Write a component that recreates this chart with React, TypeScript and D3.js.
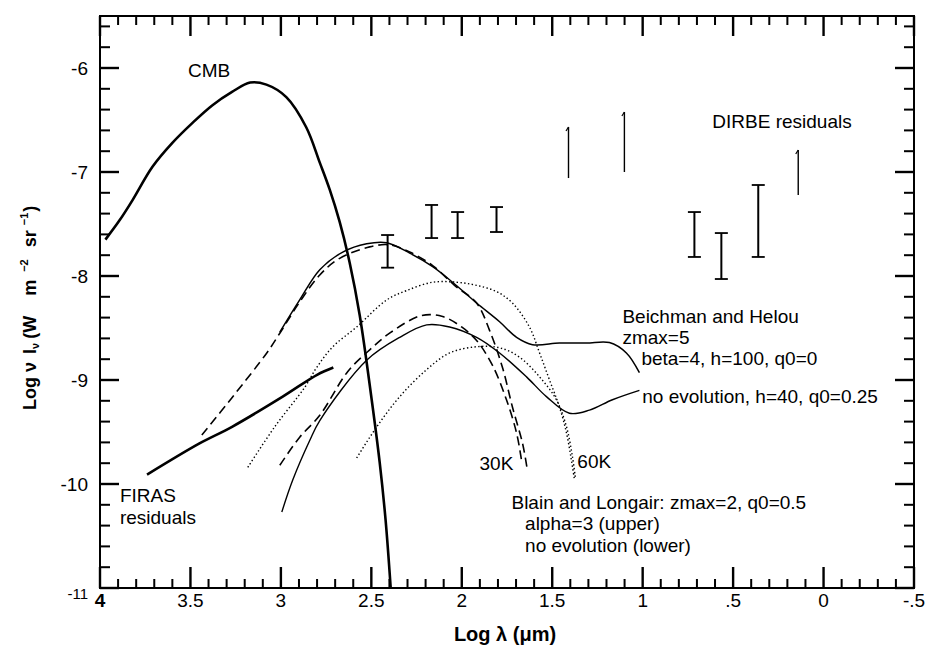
import { useEffect, useRef } from "react";
import * as d3 from "d3";

// axis ticks (log lambda runs right to left)
const xMajor = [4, 3.5, 3, 2.5, 2, 1.5, 1, 0.5, 0, -0.5];
const xLabels = ["4", "3.5", "3", "2.5", "2", "1.5", "1", ".5", "0", "-.5"];
const yMajor = [-11, -10, -9, -8, -7, -6];
const yLabels = ["-11", "-10", "-9", "-8", "-7", "-6"];

// curves as [log lambda, log nuInu]
const cmb: [number, number][] = [
  [3.97, -7.65], [3.89, -7.46], [3.82, -7.27], [3.71, -6.95], [3.6, -6.72],
  [3.49, -6.53], [3.38, -6.36], [3.27, -6.23], [3.17, -6.14], [3.08, -6.16],
  [2.97, -6.28], [2.86, -6.57], [2.785, -6.91], [2.73, -7.17], [2.675, -7.48],
  [2.62, -7.87], [2.564, -8.38], [2.498, -9.19], [2.454, -9.79], [2.421, -10.35],
  [2.393, -11.0],
];
const firas: [number, number][] = [
  [3.74, -9.91], [3.45, -9.61], [3.27, -9.45], [2.99, -9.16], [2.8, -8.95], [2.71, -8.88],
];
const bhUpper: [number, number][] = [
  [3.006, -8.54], [2.896, -8.23], [2.785, -7.94], [2.658, -7.77], [2.526, -7.69],
  [2.415, -7.68], [2.288, -7.78], [2.161, -7.91], [2.051, -8.06], [1.918, -8.26],
  [1.791, -8.44], [1.697, -8.59], [1.609, -8.66], [1.46, -8.645], [1.311, -8.645],
  [1.184, -8.64], [1.09, -8.74], [1.018, -8.93],
];
const bhLower: [number, number][] = [
  [2.995, -10.27], [2.934, -9.96], [2.84, -9.58], [2.785, -9.39], [2.526, -8.81],
  [2.343, -8.59], [2.194, -8.47], [2.067, -8.49], [1.918, -8.59], [1.791, -8.74],
  [1.642, -8.97], [1.532, -9.16], [1.405, -9.32], [1.294, -9.29], [1.167, -9.19],
  [1.018, -9.1],
];
const blUpper30: [number, number][] = [
  [3.437, -9.53], [3.266, -9.16], [3.078, -8.74], [3.006, -8.55], [2.896, -8.25],
  [2.785, -7.99], [2.675, -7.83], [2.509, -7.72], [2.399, -7.70], [2.288, -7.77],
  [2.161, -7.90], [2.04, -8.09], [1.918, -8.26], [1.847, -8.52], [1.775, -8.88],
  [1.72, -9.26], [1.664, -9.61], [1.637, -9.87],
];
const blLower30: [number, number][] = [
  [3.006, -9.82], [2.896, -9.55], [2.785, -9.34], [2.631, -8.92], [2.509, -8.71],
  [2.399, -8.55], [2.222, -8.38], [2.106, -8.39], [2.001, -8.49], [1.918, -8.62],
  [1.83, -8.86], [1.753, -9.19], [1.697, -9.51], [1.67, -9.77],
];
const blUpper60: [number, number][] = [
  [3.183, -9.84], [3.034, -9.45], [2.868, -9.07], [2.802, -8.88], [2.713, -8.68],
  [2.581, -8.49], [2.415, -8.23], [2.305, -8.14], [2.161, -8.06], [2.029, -8.06],
  [1.918, -8.09], [1.808, -8.15], [1.72, -8.26], [1.626, -8.49], [1.57, -8.74],
  [1.515, -9.0], [1.46, -9.26], [1.421, -9.51], [1.394, -9.77], [1.377, -9.96],
];
const blLower60: [number, number][] = [
  [2.581, -9.75], [2.47, -9.45], [2.343, -9.16], [2.194, -8.9], [2.067, -8.74],
  [1.918, -8.68], [1.791, -8.69], [1.681, -8.78], [1.57, -8.97], [1.477, -9.19],
  [1.421, -9.45], [1.388, -9.74], [1.372, -9.94],
];

// DIRBE residuals: log lambda, low, high
const barX = [2.41, 2.167, 2.023, 1.808, 0.714, 0.565, 0.361];
const barLo = [-7.92, -7.635, -7.635, -7.577, -7.817, -8.029, -7.817];
const barHi = [-7.606, -7.317, -7.385, -7.337, -7.385, -7.587, -7.125];
const lineX = [1.41, 1.101, 0.14];
const lineLo = [-7.058, -7.0, -7.221];
const lineHi = [-6.567, -6.423, -6.788];

const FONT = "'Liberation Sans', Arial, Helvetica, sans-serif";

export default function App() {
  const ref = useRef<SVGSVGElement>(null);

  useEffect(() => {
    const svg = d3.select(ref.current);
    svg.selectAll("*").remove();

    const x = d3.scaleLinear().domain([4, -0.5]).range([100, 914]);
    const y = d3.scaleLinear().domain([-11, -5.5]).range([588, 16]);
    const left = x(4), right = x(-0.5), top = y(-5.5), bottom = y(-11);

    const g = svg.append("g");

    // frame
    g.append("rect")
      .attr("x", left).attr("y", top)
      .attr("width", right - left).attr("height", bottom - top)
      .attr("fill", "none").attr("stroke", "#000").attr("stroke-width", 2);

    // ticks: thin rectangles pointing into the frame
    const xMinor = d3.range(-5, 41).map(d => d / 10).filter(d => !xMajor.some(m => Math.abs(m - d) < 1e-6));
    const yMinor = d3.range(-54, -27).map(d => d / 5).filter(d => !yMajor.some(m => Math.abs(m - d) < 1e-6));
    const bar = (bx: number, by: number, bw: number, bh: number) =>
      g.append("rect").attr("x", bx).attr("y", by).attr("width", bw).attr("height", bh).attr("fill", "#000");
    xMinor.forEach(d => { bar(x(d) - 1, bottom - 9, 2, 9); bar(x(d) - 1, top, 2, 9); });
    xMajor.forEach(d => { bar(x(d) - 1.2, bottom - 21, 2.4, 21); bar(x(d) - 1.2, top, 2.4, 20); });
    yMinor.forEach(d => { bar(left, y(d) - 1, 10, 2); bar(right - 10, y(d) - 1, 10, 2); });
    yMajor.forEach(d => { bar(left, y(d) - 1.2, 19, 2.4); bar(right - 19, y(d) - 1.2, 19, 2.4); });

    // tick labels
    xMajor.forEach((d, i) => {
      g.append("text").text(xLabels[i])
        .attr("x", x(d)).attr("y", 607)
        .attr("text-anchor", "middle")
        .attr("font-family", FONT).attr("font-size", 19)
        .attr("font-weight", i === 0 ? "bold" : "normal");
    });
    yMajor.forEach((d, i) => {
      g.append("text").text(yLabels[i])
        .attr("x", 88).attr("y", y(d) + (i === 0 ? 6 : 0))
        .attr("dy", "0.35em")
        .attr("text-anchor", "end")
        .attr("font-family", FONT).attr("font-size", i === 0 ? 15 : 19);
    });

    // axis titles
    g.append("text").text("Log λ (μm)")
      .attr("x", 505).attr("y", 641)
      .attr("text-anchor", "middle")
      .attr("font-family", FONT).attr("font-size", 20).attr("font-weight", "bold");

    const yt = g.append("text")
      .attr("transform", "translate(36,410) rotate(-90)")
      .attr("font-family", FONT).attr("font-size", 18).attr("font-weight", "bold");
    yt.append("tspan").text("Log");
    yt.append("tspan").text("ν").attr("dx", 5);
    yt.append("tspan").text("I").attr("dx", 8);
    yt.append("tspan").text("ν").attr("font-size", 11).attr("baseline-shift", "-30%");
    yt.append("tspan").text("(W").attr("dx", 4);
    yt.append("tspan").text("m").attr("dx", 20);
    yt.append("tspan").text("−2").attr("dx", 8).attr("font-size", 11).attr("baseline-shift", "75%");
    yt.append("tspan").text("sr").attr("dx", 12);
    yt.append("tspan").text("−1").attr("dx", 5).attr("font-size", 11).attr("baseline-shift", "75%");
    yt.append("tspan").text(")").attr("dx", 1);

    // curves
    const line = d3.line<[number, number]>()
      .x(d => x(d[0])).y(d => y(d[1]))
      .curve(d3.curveCatmullRom.alpha(0.5));
    const curve = (data: [number, number][], w: number, dash?: string) => {
      const p = g.append("path").attr("d", line(data))
        .attr("fill", "none").attr("stroke", "#000").attr("stroke-width", w)
        .attr("stroke-linejoin", "round");
      if (dash) p.attr("stroke-dasharray", dash);
    };
    curve(cmb, 2.6);
    curve(firas, 2.6);
    curve(bhUpper, 1.5);
    curve(bhLower, 1.4);
    curve(blUpper30, 1.6, "9,5");
    curve(blLower30, 1.6, "9,5");
    curve(blUpper60, 1.4, "1.4,2.4");
    curve(blLower60, 1.4, "1.4,2.4");

    // DIRBE error bars
    const seg = (x1: number, y1: number, x2: number, y2: number, w: number) =>
      g.append("line").attr("x1", x1).attr("y1", y1).attr("x2", x2).attr("y2", y2)
        .attr("stroke", "#000").attr("stroke-width", w);
    barX.forEach((d, i) => {
      const cx = x(d);
      seg(cx, y(barLo[i]), cx, y(barHi[i]), 2);
      seg(cx - 6.5, y(barLo[i]), cx + 6.5, y(barLo[i]), 1.8);
      seg(cx - 6.5, y(barHi[i]), cx + 6.5, y(barHi[i]), 1.8);
    });
    lineX.forEach((d, i) => {
      seg(x(d), y(lineLo[i]), x(d), y(lineHi[i]), 1.4);
      seg(x(d), y(lineHi[i]), x(d) - 2.5, y(lineHi[i]) + 4, 1.2);
    });

    // annotations
    const note = (t: string, lx: number, ly: number, anchor = "start") =>
      g.append("text").text(t)
        .attr("x", x(lx)).attr("y", y(ly))
        .attr("text-anchor", anchor)
        .attr("font-family", FONT).attr("font-size", 19);
    note("CMB", 3.514, -6.087);
    note("DIRBE residuals", 0.615, -6.577);
    note("Beichman and Helou", 1.112, -8.45);
    note("zmax=5", 1.112, -8.65);
    note("beta=4, h=100, q0=0", 1.007, -8.855);
    note("no evolution, h=40, q0=0.25", 1.002, -9.221);
    note("30K", 1.902, -9.865);
    note("60K", 1.361, -9.846);
    note("Blain and Longair: zmax=2, q0=0.5", 0.096, -10.24, "end");
    note("alpha=3 (upper)", 1.65, -10.445);
    note("no evolution (lower)", 1.65, -10.65);
    note("FIRAS", 3.89, -10.173);
    note("residuals", 3.89, -10.38);
  }, []);

  return (
    <div style={{ position: "absolute", left: 0, top: 0 }}>
      <svg ref={ref} width={927} height={648} style={{ display: "block", background: "#fff" }} />
    </div>
  );
}
